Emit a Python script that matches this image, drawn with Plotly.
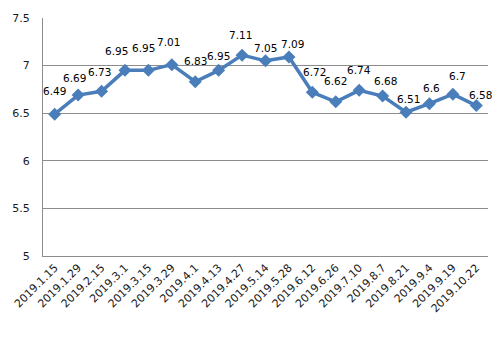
import plotly.graph_objects as go

# Sampling dates and the observed index value on each date
dates = ["2019.1.15", "2019.1.29", "2019.2.15", "2019.3.1", "2019.3.15",
         "2019.3.29", "2019.4.1", "2019.4.13", "2019.4.27", "2019.5.14",
         "2019.5.28", "2019.6.12", "2019.6.26", "2019.7.10", "2019.8.7",
         "2019.8.21", "2019.9.4", "2019.9.19", "2019.10.22"]
values = [6.49, 6.69, 6.73, 6.95, 6.95, 7.01, 6.83, 6.95, 7.11, 7.05,
          7.09, 6.72, 6.62, 6.74, 6.68, 6.51, 6.6, 6.7, 6.58]

y_ticks = [5, 5.5, 6, 6.5, 7, 7.5]
y_tick_text = ["5", "5.5", "6", "6.5", "7", "7.5"]

# Per-label nudges (pixels) so value labels sit clear of the line
label_dx = [0, -4, -2, -8, -5, -3, 0, 0, -2, 0, 4, 2, 0, 0, 3, 2, 2, 5, 4]
label_dy = [23, 17, 19, 19, 22, 23, 21, 14, 20, 13, 13, 20, 21, 20, 15, 13, 16, 18, 11]

line_color = "#4A7EBB"
grid_color = "#8C8C8C"

fig = go.Figure()
fig.add_trace(go.Scatter(
    x=dates, y=values, mode="lines+markers",
    line=dict(color=line_color, width=3.5),
    marker=dict(symbol="diamond", size=10, color=line_color),
    hoverinfo="x+y", showlegend=False,
))

for d, v, dx, dy in zip(dates, values, label_dx, label_dy):
    fig.add_annotation(
        x=d, y=v, text=f"{v:g}", showarrow=False,
        xshift=dx, yshift=dy, yanchor="middle", xanchor="center",
        font=dict(family="DejaVu Sans", size=10.5, color="#000000"),
    )

fig.update_layout(
    width=500, height=339,
    margin=dict(l=43, r=12, t=15, b=83),
    paper_bgcolor="white", plot_bgcolor="white",
    font=dict(family="DejaVu Sans", size=11, color="#1a1a1a"),
    xaxis=dict(
        type="category", range=[-0.5, len(dates) - 0.5],
        tickangle=-45, tickfont=dict(size=11, color="#1a1a1a"),
        showgrid=False, showline=True, linecolor=grid_color, linewidth=1,
        ticks="", zeroline=False,
    ),
    yaxis=dict(
        range=[5, 7.5], tickvals=y_ticks, ticktext=y_tick_text,
        showgrid=True, gridcolor=grid_color, gridwidth=1,
        showline=True, linecolor=grid_color, linewidth=1,
        ticks="", ticklabelstandoff=10, zeroline=False,
        tickfont=dict(size=11, color="#1a1a1a"),
    ),
)

fig.write_html("out.html")
